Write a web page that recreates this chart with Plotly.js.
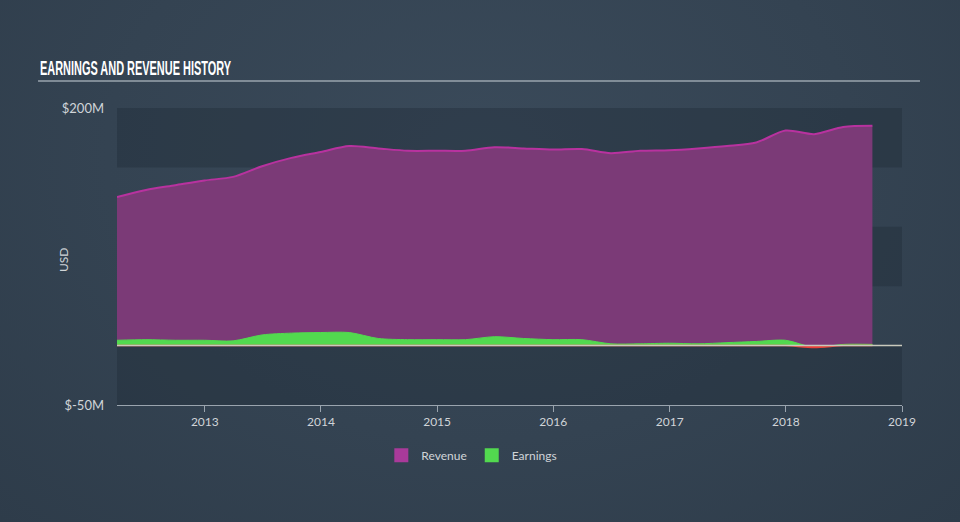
<!DOCTYPE html>
<html>
<head>
<meta charset="utf-8">
<script src="https://cdn.plot.ly/plotly-3.0.1.min.js"></script>
<style>
html,body{margin:0;padding:0;width:960px;height:522px;overflow:hidden;
background:radial-gradient(ellipse at 50% 30%, #3a4a5a 0%, #344352 55%, #2e3c4a 100%);}
#chart{width:960px;height:522px;}
</style>
</head>
<body>
<div id="chart"></div>
<script>
const dates = ['2012-03-31','2012-06-30','2012-09-30','2012-12-31','2013-03-31','2013-06-30','2013-09-30','2013-12-31',
 '2014-03-31','2014-06-30','2014-09-30','2014-12-31','2015-03-31','2015-06-30','2015-09-30','2015-12-31',
 '2016-03-31','2016-06-30','2016-09-30','2016-12-31','2017-03-31','2017-06-30','2017-09-30','2017-12-31',
 '2018-03-31','2018-06-30','2018-09-30'];
const revenue = [125,131,135,139,142,151,158,163,168,166,164,164,164,167,166,165,165.5,162,164,164.5,166,168,171,181,178,184,185];
const earnings = [4.5,5,4.5,4.5,4,9,10.5,11,11,6,5,5,5,7.5,6,5,5,1.5,1.5,2,1.5,2.5,3.5,4.5,-1.5,1,1];
const yTickVals = [-50,200];
const yTickText = ['$-50M','$200M'];
const legendNames = ['Revenue','Earnings'];
const colors = {revLine:'#b8329f',revFill:'#7b3a77',earn:'#52d94f',neg:'#e8403a',revSwatch:'#a93a9a'};
const bands = [[150,200],[50,100],[-50,0]];

const earningsNeg = earnings.map(v => Math.min(v,0));

const traces = [
 {x:dates,y:revenue,name:legendNames[0],showlegend:false,type:'scatter',mode:'lines',fill:'tozeroy',
  line:{color:colors.revLine,width:2,shape:'spline',smoothing:0.8},fillcolor:colors.revFill},
 {x:dates,y:earnings,name:legendNames[1],showlegend:false,type:'scatter',mode:'lines',fill:'tozeroy',
  line:{color:colors.earn,width:1,shape:'spline',smoothing:0.8},fillcolor:colors.earn},
 {x:dates,y:earningsNeg,name:'neg',showlegend:false,type:'scatter',mode:'lines',fill:'tozeroy',
  line:{color:colors.neg,width:1.5,shape:'spline',smoothing:0.8},fillcolor:colors.neg,hoverinfo:'skip'},
 {x:[null],y:[null],name:legendNames[0],type:'scatter',mode:'markers',
  marker:{symbol:'square',size:14,color:colors.revSwatch}},
 {x:[null],y:[null],name:legendNames[1],type:'scatter',mode:'markers',
  marker:{symbol:'square',size:14,color:colors.earn}}
];

const shapes = bands.map(b => ({type:'rect',xref:'paper',yref:'y',x0:0,x1:1,y0:b[0],y1:b[1],
  fillcolor:'rgba(30,40,52,0.35)',line:{width:0},layer:'below'}));
shapes.push({type:'line',xref:'paper',yref:'y',x0:0,x1:1,y0:0,y1:0,line:{color:'#c9c9bd',width:1.5},layer:'above'});
shapes.push({type:'line',xref:'paper',yref:'paper',x0:-0.1006,x1:1.0229,y0:1.0909,y1:1.0909,line:{color:'#9aa4ae',width:1.5}});

const tickFont = {family:'Lato, "Open Sans", sans-serif',size:12,color:'#d0d4d8'};

const layout = {
 width:960,height:522,
 paper_bgcolor:'rgba(0,0,0,0)',plot_bgcolor:'rgba(0,0,0,0)',
 margin:{l:117,r:58,t:108,b:117},
 showlegend:true,
 legend:{orientation:'h',x:0.452,xanchor:'center',y:-0.12,yanchor:'top',
   font:{family:'Lato, "Open Sans", sans-serif',size:12,color:'#d0d4d8'},itemwidth:30},
 xaxis:{type:'date',range:['2012-03-31','2019-01-01'],dtick:'M12',tick0:'2013-01-01',tickformat:'%Y',
   showgrid:false,zeroline:false,showline:true,linecolor:'#9aa4ae',linewidth:1,
   ticks:'outside',ticklen:6,tickcolor:'#9aa4ae',tickfont:tickFont},
 yaxis:{range:[-50,200],tickvals:yTickVals,ticktext:yTickText,showgrid:false,zeroline:false,
   showline:false,ticks:'',ticklabelstandoff:12,
   tickfont:{family:'Lato, "Open Sans", sans-serif',size:13,color:'#d0d4d8'}},
 shapes:shapes,
 annotations:[
  {text:'EARNINGS AND REVENUE HISTORY',xref:'paper',yref:'paper',x:-0.1006,y:1.1347,
   xanchor:'left',yanchor:'middle',showarrow:false,
   font:{family:'"Liberation Sans", Arial, sans-serif',size:20,color:'#ffffff',weight:'bold'}},
  {text:'USD',xref:'paper',yref:'paper',x:-0.0688,y:0.488,xanchor:'center',yanchor:'middle',
   textangle:-90,showarrow:false,font:{family:'Lato, "Open Sans", sans-serif',size:12,color:'#d0d4d8'}}
 ]
};

Plotly.newPlot('chart',traces,layout,{displayModeBar:false,staticPlot:true}).then(gd => {
  const t = gd.querySelector('.annotation-text');
  if (t) {
    const W = t.getComputedTextLength();
    const target = 191;
    const x0 = parseFloat(t.getAttribute('x') || '0');
    t.setAttribute('textLength', String(target));
    t.setAttribute('lengthAdjust','spacingAndGlyphs');
    t.setAttribute('x', String(x0 - (W - target)/2));
  }
});
</script>
</body>
</html>
